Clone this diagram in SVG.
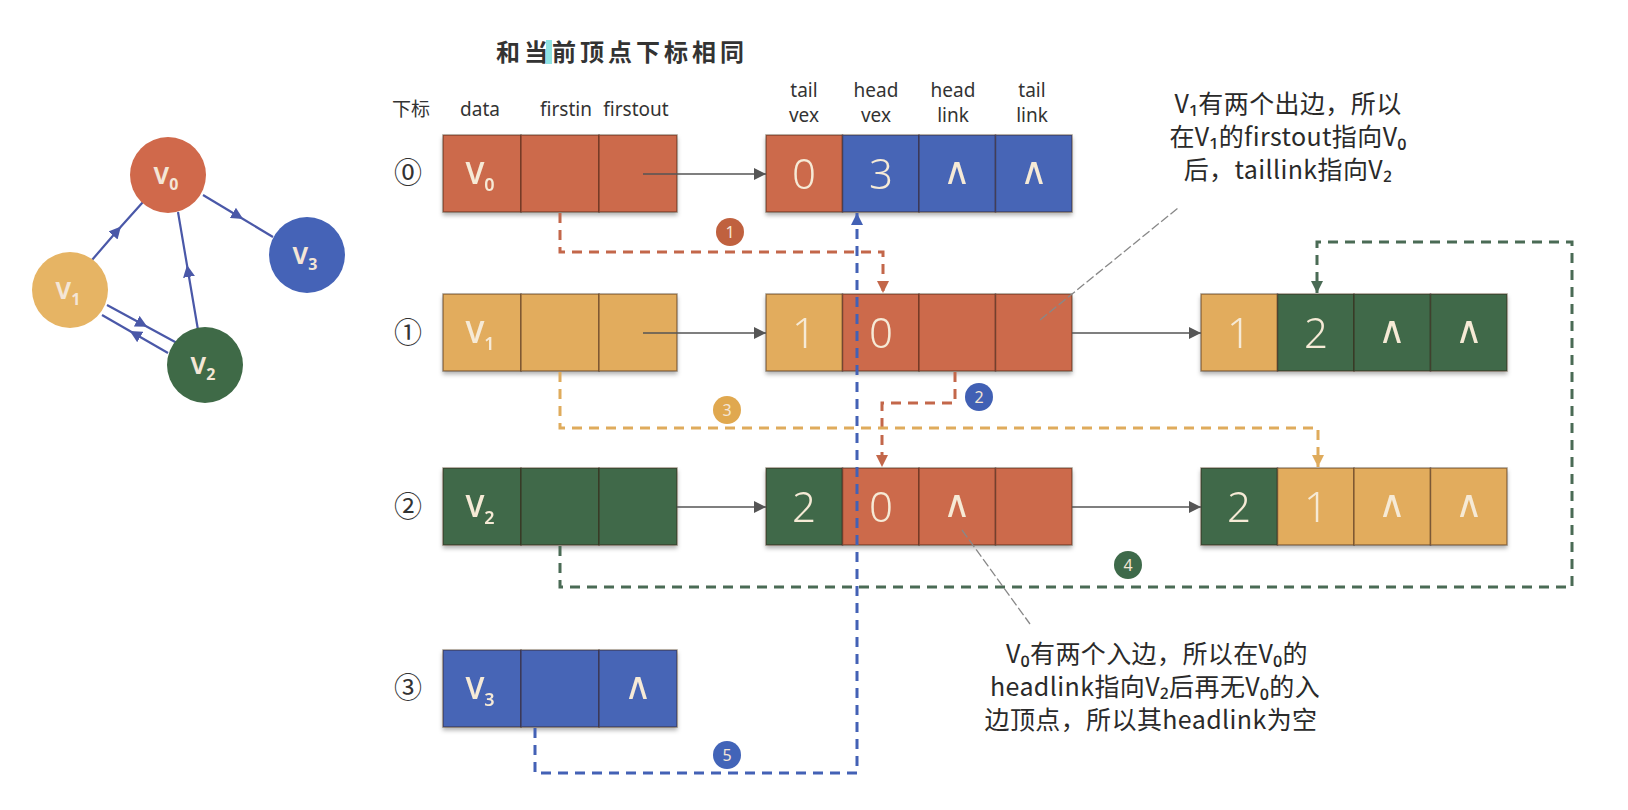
<svg xmlns="http://www.w3.org/2000/svg" width="1628" height="810" viewBox="0 0 1628 810">
<defs>
<style>
.o{fill:#cc6a4b}
.b{fill:#4765b6}
.y{fill:#e2ac5d}
.g{fill:#3f6949}
.cell{stroke:rgba(50,25,15,0.45);stroke-width:1.5}
.cv{font-family:"Noto Sans","Noto Sans CJK SC",sans-serif;font-size:30px;font-weight:600;fill:#f6ead6;text-anchor:middle}
.dg{font-family:"Noto Sans","Open Sans",sans-serif;font-size:42px;font-weight:300;fill:#f6ead6;text-anchor:middle}
.wedge{font-family:"DejaVu Sans ExtraLight","DejaVu Sans",sans-serif;font-size:38px;font-weight:200;fill:#f6ead6;text-anchor:middle}
.hd{font-family:"Noto Sans","Noto Sans CJK SC",sans-serif;font-size:19px;fill:#333;text-anchor:middle}
.idx{font-family:"Noto Sans CJK SC","DejaVu Sans",sans-serif;font-size:28px;fill:#333;text-anchor:middle}
.note{font-family:"Noto Sans CJK SC","Noto Sans",sans-serif;font-size:25px;letter-spacing:0.4px;fill:#2a2a2a;text-anchor:middle}
.gl{stroke:#4a58a8;stroke-width:2.2;fill:none;marker-mid:url(#mg)}
.gv{font-family:"Noto Sans",sans-serif;font-size:24px;font-weight:bold;fill:#f4e6d6;text-anchor:middle}
.sol{stroke:#555;stroke-width:1.6;fill:none;marker-end:url(#ms)}
.dash{fill:none;stroke-width:3;stroke-dasharray:10 7}
.badge{font-family:"Noto Sans",sans-serif;font-size:16px;fill:#f4e6d6;text-anchor:middle}
.lead{stroke:#888;stroke-width:1.3;fill:none;stroke-dasharray:9 3}
</style>
<filter id="sh" x="-5%" y="-10%" width="110%" height="130%">
<feDropShadow dx="0" dy="3" stdDeviation="2" flood-color="#000" flood-opacity="0.3"/>
</filter>
<marker id="mg" viewBox="0 0 10 10" refX="5" refY="5" markerWidth="12" markerHeight="12" markerUnits="userSpaceOnUse" orient="auto"><path d="M0,0 L10,5 L0,10 z" fill="#4a58a8"/></marker>
<marker id="ms" viewBox="0 0 10 10" refX="10" refY="5" markerWidth="13" markerHeight="12" markerUnits="userSpaceOnUse" orient="auto"><path d="M0,0 L10,5 L0,10 z" fill="#555"/></marker>
<marker id="mo" viewBox="0 0 10 10" refX="10" refY="5" markerWidth="12" markerHeight="12" markerUnits="userSpaceOnUse" orient="auto"><path d="M0,0 L10,5 L0,10 z" fill="#c3674a"/></marker>
<marker id="mb" viewBox="0 0 10 10" refX="10" refY="5" markerWidth="12" markerHeight="12" markerUnits="userSpaceOnUse" orient="auto"><path d="M0,0 L10,5 L0,10 z" fill="#4361b5"/></marker>
<marker id="my" viewBox="0 0 10 10" refX="10" refY="5" markerWidth="12" markerHeight="12" markerUnits="userSpaceOnUse" orient="auto"><path d="M0,0 L10,5 L0,10 z" fill="#dfab5c"/></marker>
<marker id="mgr" viewBox="0 0 10 10" refX="10" refY="5" markerWidth="12" markerHeight="12" markerUnits="userSpaceOnUse" orient="auto"><path d="M0,0 L10,5 L0,10 z" fill="#4a6b55"/></marker>
</defs>
<rect width="1628" height="810" fill="#ffffff"/>

<!-- graph -->
<g id="graph-edges">
<path class="gl" d="M92,260 L117,231 L143,202"/>
<path class="gl" d="M203,195 L238,216 L273,237"/>
<path class="gl" d="M198,330 L188,271 L178,212"/>
<path class="gl" d="M107,305 L142,324 L177,343"/>
<path class="gl" d="M168,353 L135,334 L102,315"/>
</g>
<g id="g-v0"><circle cx="168" cy="175" r="38" fill="#d0694b"/><text class="gv" x="166" y="184">V<tspan font-size="16" dy="6">0</tspan></text></g>
<g id="g-v1"><circle cx="70" cy="290" r="38" fill="#e6b464"/><text class="gv" x="68" y="299">V<tspan font-size="16" dy="6">1</tspan></text></g>
<g id="g-v2"><circle cx="205" cy="365" r="38" fill="#3f6a47"/><text class="gv" x="203" y="374">V<tspan font-size="16" dy="6">2</tspan></text></g>
<g id="g-v3"><circle cx="307" cy="255" r="38" fill="#4563b7"/><text class="gv" x="305" y="264">V<tspan font-size="16" dy="6">3</tspan></text></g>

<!-- title & headers -->
<g id="title">
<rect x="546" y="40" width="6" height="24" fill="#8fe3e3"/>
<text x="622" y="61" font-family="Noto Sans CJK SC,sans-serif" font-size="24" font-weight="bold" fill="#333" text-anchor="middle" letter-spacing="4">和当前顶点下标相同</text>
</g>
<g id="headers">
<text class="hd" x="411" y="116">下标</text>
<text class="hd" x="480" y="116">data</text>
<text class="hd" x="566" y="116">firstin</text>
<text class="hd" x="636" y="116">firstout</text>
<text class="hd" x="804" y="97">tail</text><text class="hd" x="804" y="122">vex</text>
<text class="hd" x="876" y="97">head</text><text class="hd" x="876" y="122">vex</text>
<text class="hd" x="953" y="97">head</text><text class="hd" x="953" y="122">link</text>
<text class="hd" x="1032" y="97">tail</text><text class="hd" x="1032" y="122">link</text>
</g>

<!-- index labels -->
<text class="idx" x="408" y="183">⓪</text>
<text class="idx" x="408" y="343">①</text>
<text class="idx" x="408" y="517">②</text>
<text class="idx" x="408" y="698">③</text>

<!-- vertex table -->
<g id="vertex-0" filter="url(#sh)">
<rect class="o cell" x="443" y="135" width="78" height="77"/><rect class="o cell" x="521" y="135" width="78" height="77"/><rect class="o cell" x="599" y="135" width="78" height="77"/>
<text class="cv" x="480" y="184">V<tspan font-size="18" dy="7">0</tspan></text>
</g>
<g id="vertex-1" filter="url(#sh)">
<rect class="y cell" x="443" y="294" width="78" height="77"/><rect class="y cell" x="521" y="294" width="78" height="77"/><rect class="y cell" x="599" y="294" width="78" height="77"/>
<text class="cv" x="480" y="343">V<tspan font-size="18" dy="7">1</tspan></text>
</g>
<g id="vertex-2" filter="url(#sh)">
<rect class="g cell" x="443" y="468" width="78" height="77"/><rect class="g cell" x="521" y="468" width="78" height="77"/><rect class="g cell" x="599" y="468" width="78" height="77"/>
<text class="cv" x="480" y="517">V<tspan font-size="18" dy="7">2</tspan></text>
</g>
<g id="vertex-3" filter="url(#sh)">
<rect class="b cell" x="443" y="650" width="78" height="77"/><rect class="b cell" x="521" y="650" width="78" height="77"/><rect class="b cell" x="599" y="650" width="78" height="77"/>
<text class="cv" x="480" y="699">V<tspan font-size="18" dy="7">3</tspan></text>
<text class="wedge" x="638" y="699">∧</text>
</g>

<!-- edge nodes -->
<g id="edge-0-3" filter="url(#sh)">
<rect class="o cell" x="766" y="135" width="76.5" height="77"/><rect class="b cell" x="842.5" y="135" width="76.5" height="77"/><rect class="b cell" x="919" y="135" width="76.5" height="77"/><rect class="b cell" x="995.5" y="135" width="76.5" height="77"/>
<text class="dg" x="804" y="189">0</text><text class="dg" x="881" y="189">3</text><text class="wedge" x="957" y="184">∧</text><text class="wedge" x="1034" y="184">∧</text>
</g>
<g id="edge-1-0" filter="url(#sh)">
<rect class="y cell" x="766" y="294" width="76.5" height="77"/><rect class="o cell" x="842.5" y="294" width="76.5" height="77"/><rect class="o cell" x="919" y="294" width="76.5" height="77"/><rect class="o cell" x="995.5" y="294" width="76.5" height="77"/>
<text class="dg" x="804" y="348">1</text><text class="dg" x="881" y="348">0</text>
</g>
<g id="edge-1-2" filter="url(#sh)">
<rect class="y cell" x="1201" y="294" width="76.5" height="77"/><rect class="g cell" x="1277.5" y="294" width="76.5" height="77"/><rect class="g cell" x="1354" y="294" width="76.5" height="77"/><rect class="g cell" x="1430.5" y="294" width="76.5" height="77"/>
<text class="dg" x="1239" y="348">1</text><text class="dg" x="1316" y="348">2</text><text class="wedge" x="1392" y="343">∧</text><text class="wedge" x="1469" y="343">∧</text>
</g>
<g id="edge-2-0" filter="url(#sh)">
<rect class="g cell" x="766" y="468" width="76.5" height="77"/><rect class="o cell" x="842.5" y="468" width="76.5" height="77"/><rect class="o cell" x="919" y="468" width="76.5" height="77"/><rect class="o cell" x="995.5" y="468" width="76.5" height="77"/>
<text class="dg" x="804" y="522">2</text><text class="dg" x="881" y="522">0</text><text class="wedge" x="957" y="517">∧</text>
</g>
<g id="edge-2-1" filter="url(#sh)">
<rect class="g cell" x="1201" y="468" width="76.5" height="77"/><rect class="y cell" x="1277.5" y="468" width="76.5" height="77"/><rect class="y cell" x="1354" y="468" width="76.5" height="77"/><rect class="y cell" x="1430.5" y="468" width="76.5" height="77"/>
<text class="dg" x="1239" y="522">2</text><text class="dg" x="1316" y="522">1</text><text class="wedge" x="1392" y="517">∧</text><text class="wedge" x="1469" y="517">∧</text>
</g>

<!-- connectors -->
<g id="connectors">
<line class="sol" x1="643" y1="174" x2="766" y2="174"/>
<line class="sol" x1="643" y1="333" x2="766" y2="333"/>
<line class="sol" x1="677" y1="507" x2="766" y2="507"/>
<line class="sol" x1="1072" y1="333" x2="1201" y2="333"/>
<line class="sol" x1="1072" y1="507" x2="1201" y2="507"/>

<path class="dash" stroke="#c3674a" marker-end="url(#mo)" d="M560,213 V252 H883 V293"/>
<path class="dash" stroke="#c3674a" marker-end="url(#mo)" d="M955,372 V403 H882 V467"/>
<path class="dash" stroke="#dfab5c" marker-end="url(#my)" d="M560,372 V428 H1318 V467"/>
<path class="dash" stroke="#4a6b55" marker-end="url(#mgr)" d="M560,546 V587 H1572 V242 H1317 V293"/>
<path class="dash" stroke="#4361b5" marker-end="url(#mb)" d="M535,728 V773 H857 V213"/>

<line class="lead" x1="1040" y1="320" x2="1178" y2="208"/>
<line class="lead" x1="962" y1="530" x2="1030" y2="624"/>
</g>

<!-- badges -->
<g id="badge-1"><circle cx="730" cy="232" r="14" fill="#c0613f"/><text class="badge" x="730" y="238">1</text></g>
<g id="badge-2"><circle cx="979" cy="397" r="14" fill="#4160b4"/><text class="badge" x="979" y="403">2</text></g>
<g id="badge-3"><circle cx="727" cy="410" r="14" fill="#e0a84f"/><text class="badge" x="727" y="416">3</text></g>
<g id="badge-4"><circle cx="1128" cy="565" r="14" fill="#3e6a4a"/><text class="badge" x="1128" y="571">4</text></g>
<g id="badge-5"><circle cx="727" cy="755" r="14" fill="#4264b8"/><text class="badge" x="727" y="761">5</text></g>

<!-- annotations -->
<g id="note-top">
<text class="note" x="1288" y="113">V₁有两个出边，所以</text>
<text class="note" x="1288" y="146">在V₁的firstout指向V₀</text>
<text class="note" x="1288" y="179">后，taillink指向V₂</text>
</g>
<g id="note-bottom">
<text class="note" x="1157" y="663">V₀有两个入边，所以在V₀的</text>
<text class="note" x="1155" y="696">headlink指向V₂后再无V₀的入</text>
<text class="note" x="1151" y="729">边顶点，所以其headlink为空</text>
</g>
</svg>
